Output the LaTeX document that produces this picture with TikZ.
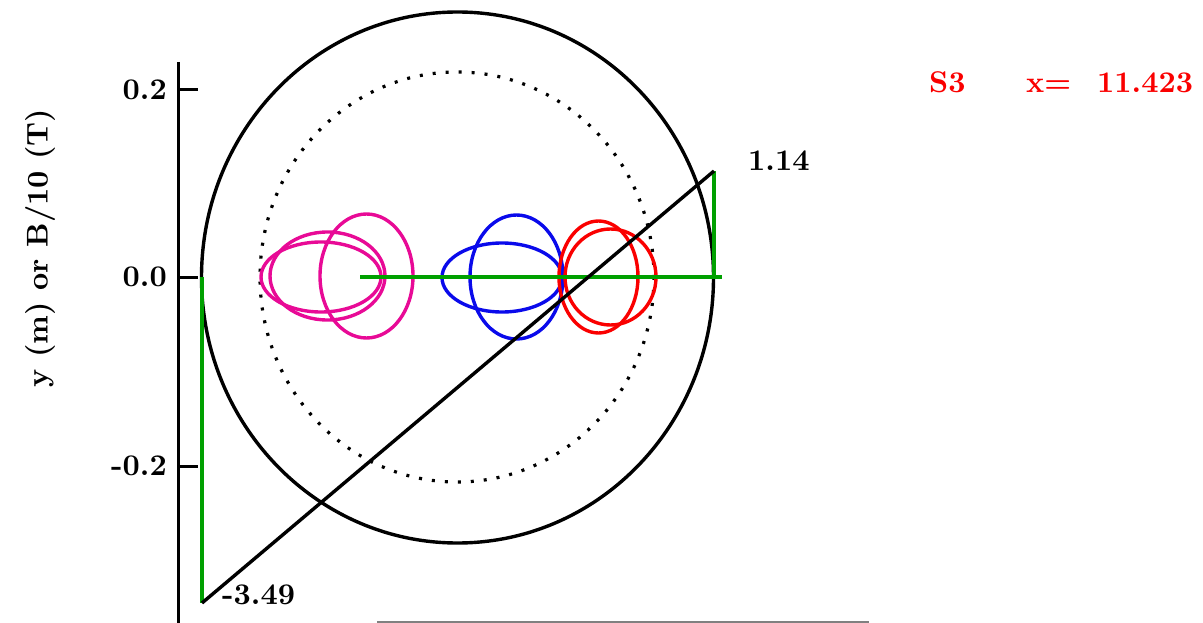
\documentclass[tikz,border=0pt]{standalone}
\definecolor{mygreen}{RGB}{0,160,0}
\definecolor{mymag}{RGB}{232,10,150}
\definecolor{myblue}{RGB}{10,10,235}
\definecolor{myred}{RGB}{250,0,0}
\font\cmbig=cmbx10 at 30pt
\tikzset{
  lab/.style={inner sep=0pt,font=\cmbig},
  ax/.style={line width=3pt,draw=black},
  curve/.style={line width=3.4pt},
  greenline/.style={line width=3.4pt,draw=mygreen}}
\begin{document}
\begin{tikzpicture}[x=1pt,y=-1pt]
\useasboundingbox (0,0) rectangle (1203,623);
% axis
\coordinate (axtop) at (178,62);
\coordinate (axbot) at (178,623);
\draw[ax] (axtop) -- (axbot);
\foreach \yy/\tt in {90/0.2,277/0.0,466/-0.2}{
  \draw[ax] (178,\yy) -- (198,\yy);
  \node[lab,anchor=east] (t\yy) at (167,\yy) {\tt};
}
\node[lab,rotate=90] (ylab) at (40,248) {y (m) or B/10 (T)};
% circles
\draw[curve,draw=black] (457.5,277.5) ellipse [x radius=256, y radius=265.5];
\draw[line width=3.2pt,dash pattern=on 3pt off 10pt] (457,277) ellipse [x radius=197, y radius=205];
% ellipses
\draw[curve,draw=mymag] (321,277) ellipse [x radius=60, y radius=35];
\draw[curve,draw=mymag] (327.5,276) ellipse [x radius=57.5, y radius=44];
\draw[curve,draw=mymag] (366.5,276) ellipse [x radius=46.5, y radius=62];
\draw[curve,draw=myblue] (502,277.5) ellipse [x radius=60, y radius=34.5];
\draw[curve,draw=myblue] (516.5,277) ellipse [x radius=46.5, y radius=62];
\draw[curve,draw=myred] (598.5,277) ellipse [x radius=39.5, y radius=56];
\draw[curve,draw=myred] (610.5,277) ellipse [x radius=45.5, y radius=48];
% green lines
\coordinate (gl) at (360,277);
\coordinate (gr) at (722,277);
\coordinate (g1a) at (202,277);
\coordinate (g1b) at (202,603);
\coordinate (g2a) at (714,277);
\coordinate (g2b) at (714,171);
\draw[greenline] (gl) -- (gr);
\draw[greenline] (g1a) -- (g1b);
\draw[greenline] (g2a) -- (g2b);
\draw[curve,draw=black] (g1b) -- (g2b);
% labels
\node[lab,anchor=base west] (l1) at (748,171) {1.14};
\node[lab,anchor=base west] (l2) at (222,604) {-3.49};
\node[lab,anchor=base west,text=myred] (s3) at (929,93) {S3};
\node[lab,anchor=base west,text=myred] (xe) at (1026,93) {x=};
\node[lab,anchor=base west,text=myred] (xv) at (1097,93) {11.423};
% bottom line
\coordinate (b1) at (377,622);
\coordinate (b2) at (869,622);
\draw[line width=1.5pt,draw=gray] (b1) -- (b2);
\end{tikzpicture}
\end{document}
